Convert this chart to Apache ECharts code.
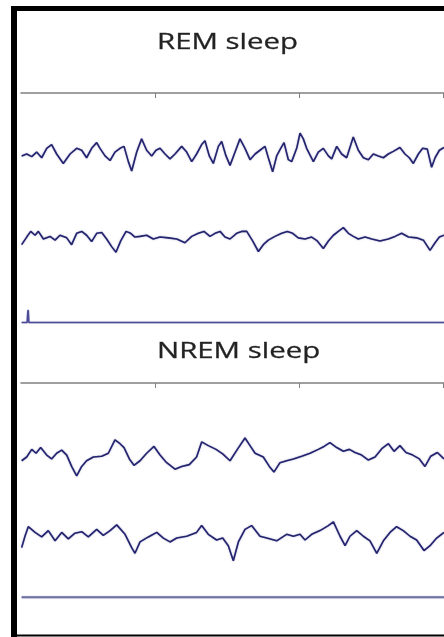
<!DOCTYPE html>
<html>
<head>
<meta charset="utf-8">
<script src="https://cdn.jsdelivr.net/npm/echarts@6/dist/echarts.min.js"></script>
<style>
html,body{margin:0;padding:0;background:#fff;}
#chart{width:444px;height:637px;}
</style>
</head>
<body>
<div id="chart"></div>
<script>
// Panel titles
const panelTitles = ['REM sleep', 'NREM sleep'];
// Time ticks on the panel axes (ms)
const tickValues = [1000, 2000, 3000];
// Traces: [time ms, amplitude µV]
const remTrace1 = [
[74,-1.7],[109,0],[144,-2.3],[178,1.7],[213,-3.3],[248,5],[282,8.3],[317,0],[363,-8.3],[410,0],
[456,5],[491,3.3],[525,-3.3],[560,5],[595,10],[618,5],[653,-1.7],[688,-5.7],[722,1.7],[757,5],
[785,6.7],[815,-6.7],[838,-15],[873,1.7],[907,13.3],[942,3.3],[977,-1.7],[1007,3.3],[1035,5],[1070,0],
[1104,-4.3],[1139,0],[1185,6.7],[1220,1.7],[1255,-6.7],[1289,0],[1324,8.3],[1347,11.7],[1377,-1.7],[1405,-8.3],
[1440,6.7],[1463,11],[1493,-1.7],[1521,-10],[1556,1.7],[1590,13.3],[1625,5],[1660,-5],[1695,0],[1729,3.3],
[1764,6.7],[1787,-3.3],[1817,-15.7],[1845,-1.7],[1873,5],[1896,10],[1926,-5],[1949,-6.7],[1984,5],[2007,18.3],
[2030,13.3],[2053,5],[2100,-6.7],[2134,1.7],[2169,5],[2204,-1.7],[2227,-4.3],[2262,6.7],[2296,0],[2331,-3.3],
[2377,15],[2412,3.3],[2447,-3.3],[2482,-5],[2516,0],[2551,-1.7],[2586,-3.3],[2620,0],[2655,2.3],[2701,5.7],
[2736,0],[2766,-3.3],[2794,-8.3],[2829,0],[2859,5],[2891,4.3],[2921,-11.7],[2945,-3.3],[2975,3.3],[3007,5.7]
];
const remTrace2 = [
[74,-5],[109,1.7],[137,6.7],[167,3.3],[190,6.7],[225,0],[271,2.3],[306,-1],[340,3.3],[387,1],
[421,-5],[456,5],[491,6.7],[525,3.3],[560,-2.3],[595,5],[630,5.7],[664,0],[699,-6.7],[729,-11.7],
[762,-1.7],[799,6.7],[831,5],[861,1.7],[896,2.3],[942,3.3],[988,0],[1035,1.7],[1093,1],[1151,0],
[1208,-3.3],[1255,2.3],[1301,5],[1340,6.7],[1382,2.3],[1417,5],[1452,6.7],[1486,1.7],[1521,0],[1567,5],
[1602,6.7],[1637,6.7],[1678,-1.7],[1718,-11],[1752,-5],[1787,-1],[1833,2.3],[1880,5],[1919,6.7],[1956,5],
[1995,1],[2042,0],[2088,1.7],[2127,-1.7],[2169,-8.3],[2204,-1.7],[2239,3.3],[2273,6.7],[2308,10],[2343,5],
[2377,2.3],[2412,0],[2459,1.7],[2505,0],[2563,-1.7],[2620,0],[2667,2.3],[2713,5],[2760,1.7],[2817,1],
[2864,-1],[2910,-10],[2945,-3.3],[2975,1.7],[3007,3.3]
];
const remEMG = [[74,0],[112,0],[116,9],[120,11],[124,0],[3007,0]];
const nremTrace1 = [
[74,-3.3],[109,0],[144,6.7],[174,3.3],[206,8.3],[248,1.7],[282,-1.7],[317,3.3],[352,6],[387,1.7],
[421,-8.3],[456,-16.7],[491,-8.3],[525,-3.3],[572,0],[630,0.7],[676,3.3],[722,15],[757,11.7],[785,8.3],
[822,-1.7],[854,-7.3],[896,-3.3],[942,3.3],[993,9.3],[1035,1.7],[1081,-5],[1139,-10.7],[1185,-8.3],[1238,-6.7],
[1289,0],[1324,13.3],[1370,10],[1424,6.7],[1470,2.7],[1521,-3.3],[1572,6.7],[1625,16.7],[1660,10],[1695,3.3],
[1752,0],[1794,-8.3],[1826,-13.3],[1868,-5],[1914,-3.3],[1961,-1.7],[2019,0.7],[2077,3.3],[2134,6.7],[2174,9.3],
[2215,12.7],[2262,8.3],[2308,5],[2350,6.7],[2389,4],[2435,1.7],[2482,-2.7],[2528,0],[2575,7.3],[2621,11.7],
[2660,5],[2701,10],[2743,4],[2790,1.7],[2836,-1.7],[2875,-8.3],[2915,0.7],[2961,4],[3007,-1.7]
];
const nremTrace2 = [
[74,-6.7],[97,3.3],[120,11.7],[167,6.7],[213,2.7],[259,8.3],[306,-0.7],[352,6.7],[398,1],[444,6],
[491,7.3],[537,2.7],[595,9.3],[641,4],[688,8.3],[734,13.3],[792,5],[838,-6.7],[861,-11.7],[896,-1.7],
[954,2.7],[1012,6.7],[1058,1.7],[1104,-1.7],[1151,1.7],[1220,3.3],[1289,6.7],[1324,12.7],[1370,5],[1428,0],
[1470,1.7],[1509,-5],[1544,-18.3],[1579,-1.7],[1625,9.3],[1671,12.7],[1729,3.3],[1776,1.7],[1845,-0.7],[1914,5],
[1961,3.3],[2007,5],[2042,0],[2088,5],[2146,8.3],[2204,12.7],[2239,16],[2285,3.3],[2320,-5],[2354,3.3],
[2401,8.3],[2447,3.3],[2493,-0.7],[2540,-11.7],[2586,-0.7],[2632,6.7],[2678,11.7],[2724,8.3],[2771,3.3],[2817,0],
[2868,-9.3],[2910,-5],[2956,1.7],[3007,6.7]
];
const nremEMG = [[74,0],[3007,0]];

const chart = echarts.init(document.getElementById('chart'));

// layout: trace centres (px)
const traces = [
  {data: remTrace1, c: 154, color: '#23236e', w: 1.6, blur: 1.5},
  {data: remTrace2, c: 239, color: '#23236e', w: 1.6, blur: 1.5},
  {data: remEMG, c: 322.5, color: '#4b4b98', w: 1.5, blur: 0.8},
  {data: nremTrace1, c: 457, color: '#23236e', w: 1.6, blur: 1.5},
  {data: nremTrace2, c: 540, color: '#23236e', w: 1.6, blur: 1.5},
  {data: nremEMG, c: 607.5, color: '#7474a4', w: 2.2, blur: 1}
];
const axisRows = [83, 373];
const XMIN = 69.4, XMAX = 3007;
const YHALF = 44;

const grids = [], xAxes = [], yAxes = [], series = [];
traces.forEach((tr, i) => {
  grids.push({left: 21, right: 0, top: tr.c - 50, height: 100});
  xAxes.push({type: 'value', gridIndex: i, min: XMIN, max: XMAX, show: false});
  yAxes.push({type: 'value', gridIndex: i, min: -YHALF, max: YHALF, show: false});
  series.push({
    type: 'line', xAxisIndex: i, yAxisIndex: i, data: tr.data,
    showSymbol: false, symbol: 'none', smooth: false,
    lineStyle: {color: tr.color, width: tr.w, shadowColor: 'rgba(60,60,140,0.55)', shadowBlur: tr.blur},
    silent: true
  });
});
axisRows.forEach((y, k) => {
  const gi = grids.length;
  grids.push({left: 21, right: 0, top: y, height: 10});
  xAxes.push({
    type: 'value', gridIndex: gi, min: XMIN, max: XMAX, position: 'top',
    axisLine: {show: true, lineStyle: {color: '#808080', width: 1.6}},
    axisTick: {show: true, inside: true, length: 5, customValues: tickValues,
               lineStyle: {color: '#808080', width: 1}},
    axisLabel: {show: false}, splitLine: {show: false}
  });
  yAxes.push({type: 'value', gridIndex: gi, min: 0, max: 1, show: false});
});

const titleY = [43.5, 352.5];
const graphics = panelTitles.map((t, k) => ({
  type: 'text', x: 157, y: titleY[k], scaleX: 1.4, z: 10,
  style: {text: t, font: '21px "Open Sans"', fill: '#222', align: 'left', verticalAlign: 'middle',
          stroke: '#444', lineWidth: 0.3}
}));
graphics.push(
  {type: 'rect', z: 20, shape: {x: 11, y: 6, width: 433, height: 5}, style: {fill: '#000'}},
  {type: 'rect', z: 20, shape: {x: 11, y: 6, width: 6, height: 631}, style: {fill: '#000'}},
  {type: 'rect', z: 20, shape: {x: 11, y: 634.5, width: 433, height: 2}, style: {fill: '#000'}}
);

chart.setOption({
  animation: false,
  backgroundColor: '#fff',
  grid: grids, xAxis: xAxes, yAxis: yAxes, series: series,
  graphic: graphics
});
</script>
</body>
</html>
